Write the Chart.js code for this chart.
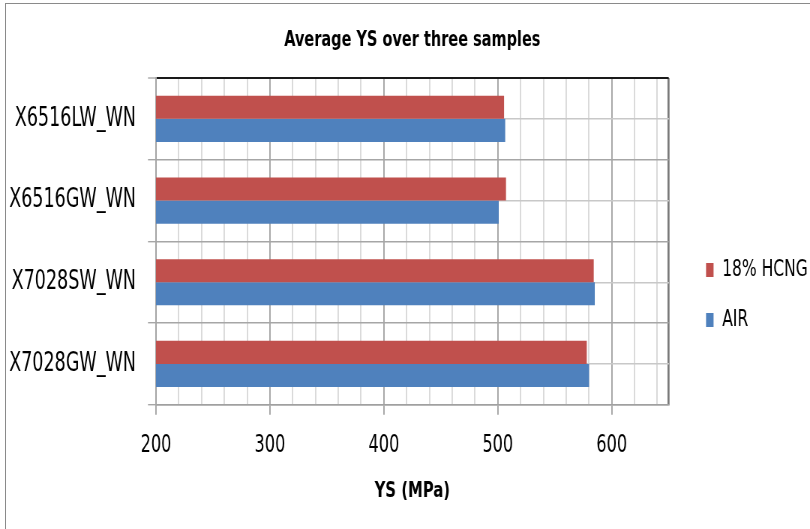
<!DOCTYPE html>
<html><head><meta charset="utf-8">
<script src="https://cdn.jsdelivr.net/npm/chart.js@4/dist/chart.umd.min.js"></script>
<style>
html,body{margin:0;padding:0;background:#fff;}
#wrap{position:relative;width:810px;height:529px;overflow:hidden;background:#fff;}
#frame{position:absolute;left:5px;top:3px;width:900px;height:600px;border-left:1px solid #8a8a8a;border-top:1px solid #8a8a8a;}
#c{position:absolute;left:0;top:0;transform:scaleX(0.75);transform-origin:0 0;}
</style></head><body>
<div id="wrap"><div id="frame"></div><canvas id="c" width="1080" height="529"></canvas></div>
<script>
const categories = ['X6516LW_WN', 'X6516GW_WN', 'X7028SW_WN', 'X7028GW_WN'];
const hcngValues = [505.5, 507.2, 584.2, 578.1];
const airValues = [506.5, 500.8, 585.1, 580.1];
const seriesNames = ['18% HCNG', 'AIR'];
const xTickLabels = [200, 300, 400, 500, 600];
const xMin = 200, xMax = 650, xMinorStep = 20;
const chartTitle = 'Average YS over three samples';
const xTitle = 'YS (MPa)';

const FONT = "'DejaVu Sans Condensed', 'DejaVu Sans', sans-serif";
Chart.defaults.font.family = FONT;
Chart.defaults.color = '#000';

new Chart(document.getElementById('c'), {
  type: 'bar',
  data: {
    labels: categories,
    datasets: [
      { label: seriesNames[0], data: hcngValues, backgroundColor: '#C0504D', borderWidth: 0,
        categoryPercentage: 0.565, barPercentage: 1.0 },
      { label: seriesNames[1], data: airValues, backgroundColor: '#4F81BD', borderWidth: 0,
        categoryPercentage: 0.565, barPercentage: 1.0 }
    ]
  },
  options: {
    indexAxis: 'y',
    responsive: false,
    devicePixelRatio: 1,
    animation: false,
    events: [],
    layout: { padding: { top: 18, bottom: 25, left: 0, right: -7 } },
    plugins: {
      title: {
        display: true, text: chartTitle, color: '#000', fullSize: false,
        font: { size: 21.5, weight: 'bold', family: FONT },
        padding: { top: 10, bottom: 24.2 }
      },
      legend: {
        position: 'right',
        align: 'center',
        title: { display: true, text: '', font: { size: 1 }, padding: { top: 67, bottom: 0 } },
        labels: {
          boxWidth: 10, boxHeight: 14, padding: 27,
          font: { size: 23, family: FONT }, color: '#000'
        }
      },
      tooltip: { enabled: false }
    },
    scales: {
      x: {
        type: 'linear',
        min: xMin, max: xMax,
        afterBuildTicks: (scale) => {
          const t = [];
          for (let v = xMin; v < xMax; v += xMinorStep) t.push({ value: v });
          t.push({ value: xMax });
          scale.ticks = t;
        },
        ticks: {
          autoSkip: false, maxRotation: 0, minRotation: 0,
          font: { size: 24, family: FONT }, color: '#000', padding: 17,
          callback: (v) => xTickLabels.includes(v) ? String(v) : ''
        },
        grid: {
          color: (c) => {
            const v = c.tick ? c.tick.value : null;
            if (v === xMax) return '#7a7a7a';
            if (v !== null && v % 100 === 0) return '#a6a6a6';
            return '#d9d9d9';
          },
          lineWidth: (c) => {
            const v = c.tick ? c.tick.value : null;
            if (v === xMax) return 2.7;
            return 1.9;
          },
          tickColor: (c) => {
            const v = c.tick ? c.tick.value : null;
            return (v !== null && xTickLabels.includes(v)) ? '#a6a6a6' : 'rgba(0,0,0,0)';
          },
          tickLength: 10, tickWidth: 1.9
        },
        border: { display: true, color: '#a0a0a0', width: 1.5 },
        title: {
          display: true, text: xTitle, color: '#000',
          font: { size: 22, weight: 'bold', family: FONT },
          padding: { top: 0, bottom: 0 }
        }
      },
      y: {
        type: 'category',
        offset: true,
        afterFit: (s) => { s.width = 208; },
        ticks: { font: { size: 26, family: FONT }, color: '#000', padding: 16 },
        grid: {
          offset: true,
          color: (c) => c.index === 0 ? '#1a1a1a' : '#a6a6a6',
          lineWidth: (c) => c.index === 0 ? 2 : 1.4,
          tickColor: '#a6a6a6', tickLength: 10.7, tickWidth: 1.4
        },
        border: { display: true, color: '#a6a6a6', width: 2 }
      },
      y2: {
        type: 'category',
        axis: 'y',
        position: 'right',
        offset: true,
        afterFit: (s) => { s.width = 22.8; },
        ticks: { display: false },
        grid: { offset: false, color: '#c8c8c8', lineWidth: 1.4, drawTicks: false },
        border: { display: false }
      }
    }
  }
});
</script>
</body></html>
